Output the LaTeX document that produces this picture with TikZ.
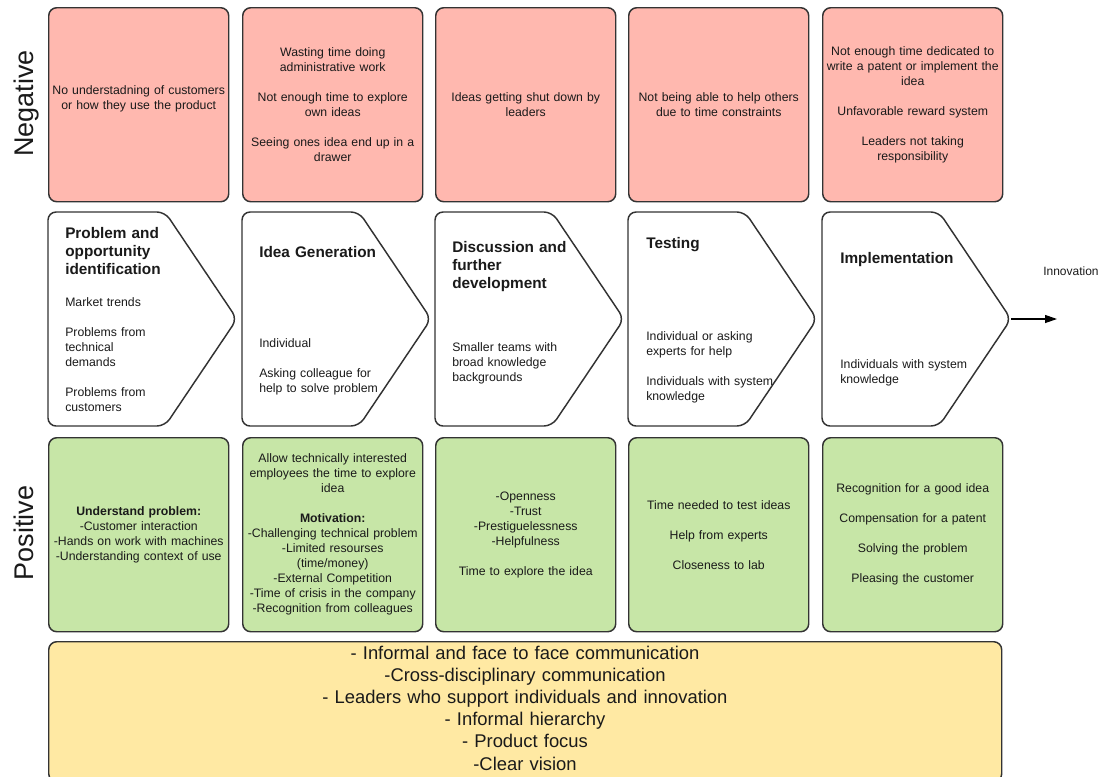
\documentclass[tikz,border=0pt]{standalone}
\usepackage{fontspec}
\setmainfont{Liberation Sans}
\usetikzlibrary{arrows.meta}

\definecolor{negfill}{HTML}{FFB8AF}
\definecolor{posfill}{HTML}{C7E6A7}
\definecolor{basefill}{HTML}{FFE9A3}
\definecolor{edge}{HTML}{333333}
\definecolor{ink}{HTML}{1A1A1A}

\newcommand{\gap}{\\[11.25pt]}

\begin{document}
\begin{tikzpicture}[x=0.75pt,y=-0.75pt,
  every node/.style={text=ink},
  card/.style={draw=edge, line width=1.1pt, rounded corners=6pt,
    minimum width=135pt, minimum height=145.5pt, inner sep=0pt,
    text width=134pt, align=center, anchor=north west,
    font=\fontsize{9.2}{11.25}\selectfont},
  negcard/.style={card, fill=negfill},
  poscard/.style={card, fill=posfill},
  chevron/.style={draw=edge, line width=1.1pt, rounded corners=6pt, fill=white},
  stagetitle/.style={anchor=base west, inner sep=0pt, text width=130pt, align=left,
    font=\fontsize{11.5}{13.5}\selectfont\bfseries},
  stagebody/.style={anchor=base west, inner sep=0pt, text width=130pt, align=left,
    font=\fontsize{9.2}{11.25}\selectfont},
  rowlabel/.style={rotate=90, anchor=base, inner sep=0pt,
    font=\fontsize{20.25}{24}\selectfont},
  flow/.style={line width=0.9pt, -{Triangle[length=9pt,width=6pt]}}
]
\useasboundingbox (0,0) rectangle (1101,776);

% row labels
\node[rowlabel] (neglabel) at (33,103.5) {Negative};
\node[rowlabel] (poslabel) at (33,533) {Positive};

% negative factors
\node[negcard] (n1) at (48,7) {No understadning of customers\\or how they use the product\\\mbox{}};
\node[negcard] (n2) at (242,7) {Wasting time doing\\administrative work\gap Not enough time to explore\\own ideas\gap Seeing ones idea end up in a\\drawer};
\node[negcard] (n3) at (435,7) {Ideas getting shut down by\\leaders};
\node[negcard] (n4) at (628,7) {Not being able to help others\\due to time constraints};
\node[negcard] (n5) at (822,7) {Not enough time dedicated to\\write a patent or implement the\\idea\gap Unfavorable reward system\gap Leaders not taking\\responsibility};

% process stages
\foreach \x/\n in {48/1,242/2,435/3,628/4,822/5}{
  \draw[chevron] (\x,319) -- (\x,212) -- (\x+117,212) -- (\x+189,319)
    -- (\x+117,426) -- (\x,426) -- cycle;
  \coordinate (tip\n) at (\x+189,319);
}

\node[stagetitle] (t1) at (65,238) {Problem and\\opportunity\\identification};
\node[stagebody] (b1) at (65,306) {Market trends\gap Problems from\\technical\\demands\gap Problems from\\customers};

\node[stagetitle] (t2) at (259,257) {Idea Generation};
\node[stagebody] (b2) at (259,347) {Individual\gap Asking colleague for\\help to solve problem};

\node[stagetitle] (t3) at (452,252) {Discussion and\\further\\development};
\node[stagebody] (b3) at (452,351) {Smaller teams with\\broad knowledge\\backgrounds};

\node[stagetitle] (t4) at (646,248) {Testing};
\node[stagebody] (b4) at (646,340) {Individual or asking\\experts for help\gap Individuals with system\\knowledge};

\node[stagetitle] (t5) at (840,263) {Implementation};
\node[stagebody] (b5) at (840,368) {Individuals with system\\knowledge};

% outcome
\coordinate (outend) at (1057,319);
\draw[flow] (tip5) -- (outend);
\node[anchor=base west, inner sep=0pt, font=\fontsize{9}{11}\selectfont] (innov) at (1043,275) {Innovation};

% positive factors
\node[poscard] (p1) at (48,437) {\textbf{Understand problem:}\\-Customer interaction\\-Hands on work with machines\\-Understanding context of use};
\node[poscard] (p2) at (242,437) {Allow technically interested\\employees the time to explore\\idea\gap\textbf{Motivation:}\\-Challenging technical problem\\-Limited resourses\\(time/money)\\-External Competition\\-Time of crisis in the company\\-Recognition from colleagues};
\node[poscard] (p3) at (435,437) {-Openness\\-Trust\\-Prestiguelessness\\-Helpfulness\gap Time to explore the idea};
\node[poscard] (p4) at (628,437) {Time needed to test ideas\gap Help from experts\gap Closeness to lab};
\node[poscard] (p5) at (822,437) {Recognition for a good idea\gap Compensation for a patent\gap Solving the problem\gap Pleasing the customer};

% common enablers
\node[draw=edge, line width=1.1pt, rounded corners=6pt, fill=basefill, anchor=north west,
  minimum width=714.75pt, minimum height=105pt, inner sep=0pt] (common) at (48,641) {};
\node[anchor=base, inner sep=0pt, text width=600pt, align=center,
  font=\fontsize{13.8}{16.65}\selectfont] (commontext) at (525,659)
  {- Informal and face to face communication\\-Cross-disciplinary communication\\- Leaders who support individuals and innovation\\- Informal hierarchy\\- Product focus\\-Clear vision};
\end{tikzpicture}
\end{document}
